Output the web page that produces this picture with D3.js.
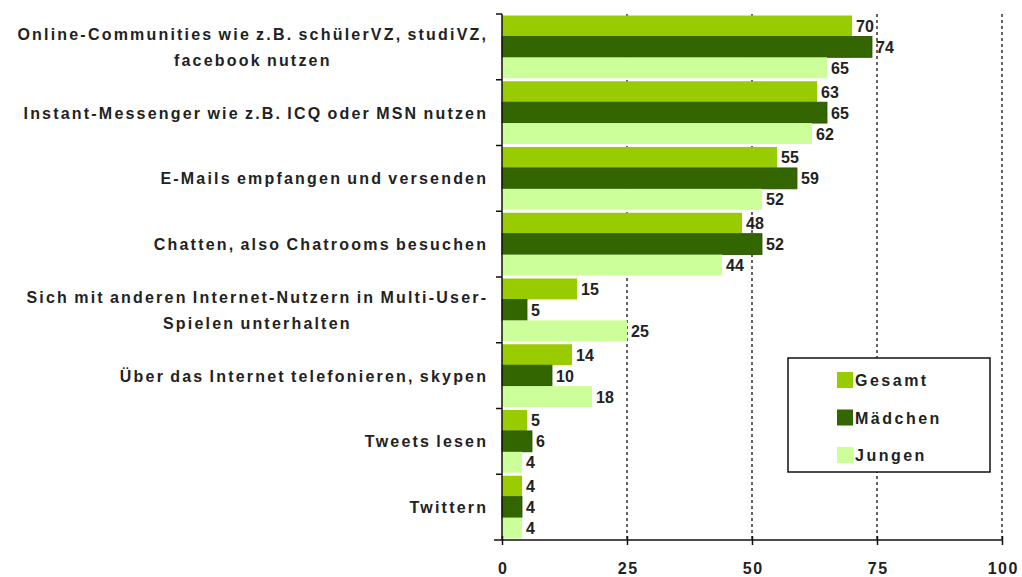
<!DOCTYPE html>
<html lang="de">
<head>
<meta charset="utf-8">
<title>Internet-Nutzung</title>
<script src="https://d3js.org/d3.v7.min.js"></script>
<style>
  body { margin:0; background:#fff; }
  text { font-family: "Liberation Sans", Arial, sans-serif; font-weight:bold; fill:#222; }
</style>
</head>
<body>
<svg id="chart" width="1022" height="577"></svg>
<script>
var categories = [
  ["Online-Communities wie z.B. schülerVZ, studiVZ,", "facebook nutzen"],
  ["Instant-Messenger wie z.B. ICQ oder MSN nutzen"],
  ["E-Mails empfangen und versenden"],
  ["Chatten, also Chatrooms besuchen"],
  ["Sich mit anderen Internet-Nutzern in Multi-User-", "Spielen unterhalten"],
  ["Über das Internet telefonieren, skypen"],
  ["Tweets lesen"],
  ["Twittern"]
];
var seriesNames = ["Gesamt", "Mädchen", "Jungen"];
var gesamt  = [70, 63, 55, 48, 15, 14, 5, 4];
var maedchen = [74, 65, 59, 52, 5, 10, 6, 4];
var jungen  = [65, 62, 52, 44, 25, 18, 4, 4];
var xTicks = [0, 25, 50, 75, 100];

var colors = ["#99cc00", "#336600", "#ccff99"];
var seriesData = [gesamt, maedchen, jungen];

var margin = {left:502, right:20, top:14, bottom:37};
var w = 1022, h = 577;
var spacing = 2.2;

var svg = d3.select("#chart");

var x = d3.scaleLinear().domain([0,100]).range([margin.left, 1002]);
var y = d3.scaleBand().domain(d3.range(categories.length)).range([margin.top, h-margin.bottom]);
var ySub = d3.scaleBand().domain(d3.range(3)).range([1.5, y.bandwidth()-1.5]);

// gridlines
svg.selectAll("line.grid")
  .data(xTicks.slice(1))
  .enter()
  .append("line")
  .attr("class","grid")
  .attr("x1",d=>x(d)).attr("x2",d=>x(d))
  .attr("y1",margin.top).attr("y2",h-margin.bottom)
  .attr("stroke","#111")
  .attr("stroke-width",1.3)
  .attr("stroke-dasharray","3,3");

// bars
var groups = svg.selectAll("g.cat")
  .data(categories)
  .enter()
  .append("g")
  .attr("class","cat")
  .attr("transform",(d,i)=>"translate(0,"+y(i)+")");

groups.each(function(d,i){
  var g = d3.select(this);
  seriesData.forEach(function(s,j){
    g.append("rect")
      .attr("x",x(0))
      .attr("y",ySub(j))
      .attr("width",x(s[i])-x(0))
      .attr("height",ySub.bandwidth())
      .attr("fill",colors[j])
      .attr("stroke", j==1 ? "#2a5200" : "none")
      .attr("stroke-width",0.8);
  });
});
groups.each(function(d,i){
  var g = d3.select(this);
  seriesData.forEach(function(s,j){
    g.append("text")
      .text(s[i])
      .attr("x",x(s[i])+4)
      .attr("y",ySub(j)+ySub.bandwidth()/2+6)
      .attr("font-size","16px");
  });
});

// category labels
groups.each(function(d,i){
  var g = d3.select(this);
  var t = g.append("text")
    .attr("font-size","16px")
    .attr("letter-spacing",spacing+"px")
    .attr("word-spacing","-1.5px")
    .attr("text-anchor","middle");
  d.forEach(function(line,k){
    t.append("tspan").text(line).attr("x",0).attr("dy", k==0 ? 0 : 26);
  });
  var maxW = 0;
  t.selectAll("tspan").each(function(){ maxW = Math.max(maxW, this.getComputedTextLength()); });
  var cx = 486 + spacing - maxW/2;
  t.selectAll("tspan").attr("x",cx);
  var yc = y.bandwidth()/2 + 6 - (d.length-1)*26/2;
  t.attr("y",yc);
});

// y axis line and ticks
svg.append("line")
  .attr("x1",x(0)).attr("x2",x(0))
  .attr("y1",margin.top).attr("y2",h-margin.bottom)
  .attr("stroke","#111").attr("stroke-width",1.5);

svg.selectAll("line.ytick")
  .data(d3.range(categories.length))
  .enter()
  .append("line")
  .attr("class","ytick")
  .attr("x1",x(0)-6).attr("x2",x(0))
  .attr("y1",d=>y(d)).attr("y2",d=>y(d))
  .attr("stroke","#111").attr("stroke-width",1.5);

// x axis
var xAxis = d3.axisBottom(x).tickValues(xTicks).tickSize(5).tickPadding(18);
var ax = svg.append("g")
  .attr("transform","translate(0,"+(h-margin.bottom)+")")
  .call(xAxis);
ax.select(".domain").remove();
ax.append("line").attr("x1",x(0)-8).attr("x2",x(100)).attr("y1",0).attr("y2",0)
  .attr("stroke","#111").attr("stroke-width",1.5);
ax.selectAll(".tick line").attr("y1",-4).attr("y2",5).attr("stroke","#111").attr("stroke-width",1.5);
ax.selectAll(".tick text")
  .attr("font-size","16px")
  .attr("letter-spacing","1.5px")
  .attr("dx","0.75px")
  .attr("font-family","Liberation Sans, Arial, sans-serif")
  .attr("font-weight","bold")
  .attr("fill","#222");

// legend
var legend = svg.append("g").attr("transform","translate(788,358)");
legend.append("rect")
  .attr("width",202).attr("height",114)
  .attr("fill","#fff").attr("stroke","#111").attr("stroke-width",1.5);
seriesNames.forEach(function(n,j){
  legend.append("rect")
    .attr("x",49).attr("y",14+j*37.5)
    .attr("width",16).attr("height",16)
    .attr("fill",colors[j]);
  legend.append("text")
    .text(n)
    .attr("x",67).attr("y",28+j*37.5)
    .attr("font-size","16px")
    .attr("letter-spacing","2.5px");
});
</script>
</body>
</html>
